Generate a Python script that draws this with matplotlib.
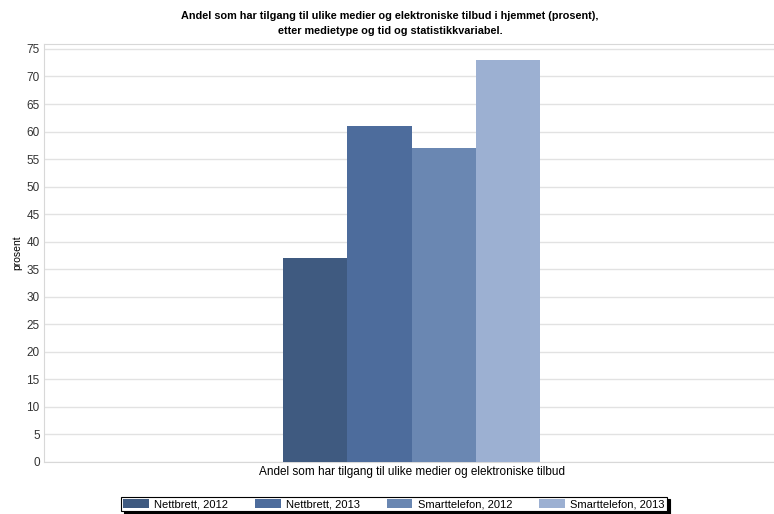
import matplotlib
matplotlib.use("Agg")
import matplotlib.pyplot as plt

category = "Andel som har tilgang til ulike medier og elektroniske tilbud"
series = ["Nettbrett, 2012", "Nettbrett, 2013", "Smarttelefon, 2012", "Smarttelefon, 2013"]
values = [37, 61, 57, 73]
colors = ["#3f5a80", "#4d6c9c", "#6a87b2", "#9cb0d2"]
yticks = list(range(0, 80, 5))

title = ("Andel som har tilgang til ulike medier og elektroniske tilbud i hjemmet (prosent),\n"
         "etter medietype og tid og statistikkvariabel.")

plt.rcParams['font.family'] = ['Liberation Sans', 'DejaVu Sans']

fig = plt.figure(figsize=(7.74, 5.14), dpi=100)
ax = fig.add_axes([0.0568, 0.1012, 0.9432, 0.8132])

offsets = [-1.5, -0.5, 0.5, 1.5]
for off, name, val, col in zip(offsets, series, values, colors):
    ax.bar(off, val, width=1.0, color=col, label=name, zorder=3)

ax.set_xlim(-5.72, 5.64)
ax.set_ylim(0, 75.9)
ax.set_yticks(yticks)
ax.set_xticks([0])
ax.set_xticklabels([category], fontsize=8.5)
ax.tick_params(axis='y', length=0, pad=3, labelsize=8.5, labelcolor='#333333')
ax.tick_params(axis='x', length=0, pad=3)
ax.grid(axis='y', color='#e2e2e2', linewidth=1, zorder=0)
for s in ['left', 'top', 'bottom']:
    ax.spines[s].set_color('#d8d8d8')
ax.spines['right'].set_visible(False)

ax.set_ylabel("prosent", fontsize=7.5, labelpad=3)

fig.text(0.504, 0.954, title, ha='center', va='center', fontsize=7.8,
         fontweight='bold', linespacing=1.55)

leg = fig.legend(loc='center', bbox_to_anchor=(0.509, 0.0195), ncol=4, fontsize=8,
                 frameon=True, fancybox=False,
                 shadow={'color': 'black', 'alpha': 1.0}, edgecolor='black',
                 handlelength=2.3, handleheight=0.9, columnspacing=2.4,
                 borderpad=0.2, handletextpad=0.5)
leg.get_frame().set_linewidth(0.8)

fig.savefig("out.png", dpi=100)
